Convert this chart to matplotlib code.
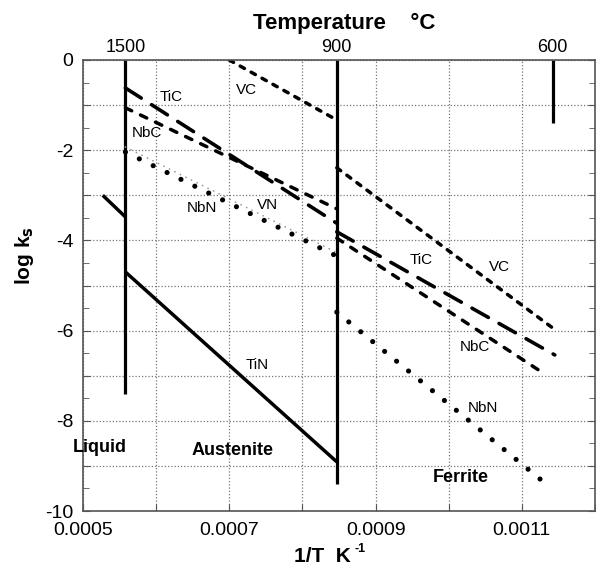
import numpy as np
import matplotlib.pyplot as plt
from matplotlib.ticker import MultipleLocator

plt.rcParams['font.family'] = ['Liberation Sans', 'DejaVu Sans']

# === Data ===
# phase boundaries: label (deg C), position on the 1/T axis, lower end (log ks)
bound_temps = [1500, 900, 600]
bound_x = [0.000558, 0.000847, 0.001142]
bound_bottom = [-7.4, -9.4, -1.4]

x_liq, x_aus, x_fer = bound_x

# solubility products, log ks at the segment ends
vc_aus_x = [0.00070, x_aus]
vc_aus_y = [0.0, -1.33]
vc_fer_x = [x_aus, x_fer]
vc_fer_y = [-2.39, -5.94]

tic_aus_x = [x_liq, x_aus]
tic_aus_y = [-0.62, -3.62]
tic_fer_x = [x_aus, 0.001145]
tic_fer_y = [-3.81, -6.54]

nbc_aus_x = [x_liq, x_aus]
nbc_aus_y = [-1.06, -3.30]
nbc_fer_x = [x_aus, 0.001131]
nbc_fer_y = [-3.95, -6.96]

vn_aus_x = [x_liq, x_aus]
vn_aus_y = [-1.93, -4.27]

nbn_aus_x = [x_liq, x_aus]
nbn_aus_y = [-2.04, -4.35]
nbn_fer_x = [x_aus, 0.001130]
nbn_fer_y = [-5.59, -9.36]

tin_liq_x = [0.000527, x_liq]
tin_liq_y = [-3.00, -3.48]
tin_aus_x = [x_liq, x_aus]
tin_aus_y = [-4.70, -8.91]

# text labels: (text, x, y, bold)
labels = [
    ("TiC", 0.000621, -0.82, False),
    ("VC", 0.000724, -0.67, False),
    ("NbC", 0.000587, -1.62, False),
    ("NbN", 0.000663, -3.28, False),
    ("VN", 0.000752, -3.22, False),
    ("TiC", 0.000963, -4.43, False),
    ("VC", 0.001070, -4.59, False),
    ("NbC", 0.001036, -6.36, False),
    ("NbN", 0.001047, -7.72, False),
    ("TiN", 0.000738, -6.76, False),
    ("Liquid", 0.000523, -8.60, True),
    ("Austenite", 0.000704, -8.65, True),
    ("Ferrite", 0.001016, -9.25, True),
]

# === Plot ===
fig = plt.figure(figsize=(5.96, 5.69), dpi=100)
ax = fig.add_axes([83 / 596, 1 - 511 / 569, 512 / 596, 451 / 569])

ax.set_xlim(0.0005, 0.0012)
ax.set_ylim(-10, 0)

# grid + ticks
ax.yaxis.set_minor_locator(MultipleLocator(0.5))
xt = np.round(np.arange(0.0005, 0.00121, 0.0001), 5)
ax.set_xticks(xt)
ax.set_xticklabels([f"{v:.4f}" if i % 2 == 0 else "" for i, v in enumerate(xt)])
yt = np.arange(-10, 1, 1)
ax.set_yticks(yt)
ax.set_yticklabels([f"{v}" if v % 2 == 0 else "" for v in yt])
ax.tick_params(which="both", direction="in", right=True, top=True,
               color="#555555", labelsize=14)
ax.tick_params(which="major", length=5)
ax.tick_params(which="minor", length=4)
ax.tick_params(axis="x", pad=8)
ax.tick_params(axis="y", pad=7)
ax.grid(True, which="major", color="#777777", linestyle=(0, (1, 1.6)), linewidth=0.9)
ax.set_axisbelow(True)
for sp in ax.spines.values():
    sp.set_color("#555555")
    sp.set_linewidth(1.2)

# phase boundaries
for x, yb in zip(bound_x, bound_bottom):
    ax.plot([x, x], [0, yb], color="black", lw=2.3, solid_capstyle="butt")

dash_vc = (0, (1.4, 2.2))
dash_tic = (0, (5.2, 3.4))
dash_nbc = (0, (2.0, 2.8))
dot_nbn = (0, (0.01, 3.0))
dot_vn = (0, (0.01, 3.4))

for xs, ys in [(vc_aus_x, vc_aus_y), (vc_fer_x, vc_fer_y)]:
    ax.plot(xs, ys, color="black", lw=2.5, linestyle=dash_vc, dash_capstyle="round")
for xs, ys in [(tic_aus_x, tic_aus_y), (tic_fer_x, tic_fer_y)]:
    ax.plot(xs, ys, color="black", lw=2.6, linestyle=dash_tic, dash_capstyle="round")
for xs, ys in [(nbc_aus_x, nbc_aus_y), (nbc_fer_x, nbc_fer_y)]:
    ax.plot(xs, ys, color="black", lw=2.5, linestyle=dash_nbc, dash_capstyle="round")
ax.plot(vn_aus_x, vn_aus_y, color="#999999", lw=1.3, linestyle=dot_vn, dash_capstyle="round")
for xs, ys in [(nbn_aus_x, nbn_aus_y), (nbn_fer_x, nbn_fer_y)]:
    ax.plot(xs, ys, color="black", lw=3.7, linestyle=dot_nbn, dash_capstyle="round")
for xs, ys in [(tin_liq_x, tin_liq_y), (tin_aus_x, tin_aus_y)]:
    ax.plot(xs, ys, color="black", lw=2.5, solid_capstyle="butt")

for txt, x, y, bold in labels:
    ax.text(x, y, txt, ha="center", va="center",
            fontsize=13 if bold else 11, fontweight="bold" if bold else "normal",
            clip_on=False)

# top temperature axis
ax2 = ax.twiny()
ax2.set_xlim(ax.get_xlim())
ax2.set_xticks(bound_x)
ax2.set_xticklabels([str(t) for t in bound_temps])
ax2.tick_params(axis="x", length=0, pad=3, labelsize=13)
for sp in ax2.spines.values():
    sp.set_visible(False)

fig.text(344 / 596, 1 - 23 / 569, "Temperature    \u00b0C", ha="center", va="center",
         fontsize=16, fontweight="bold")
fig.text(322 / 596, 1 - 557 / 569, "1/T  K", ha="center", va="center",
         fontsize=15, fontweight="bold")
fig.text(360 / 596, 1 - 549 / 569, "-1", ha="center", va="center",
         fontsize=9, fontweight="bold")
fig.text(25 / 596, 1 - 256 / 569, r"log k$_{\mathbf{s}}$", ha="center", va="center",
         rotation=90, fontsize=15, fontweight="bold")

fig.savefig("out.png", dpi=100)
